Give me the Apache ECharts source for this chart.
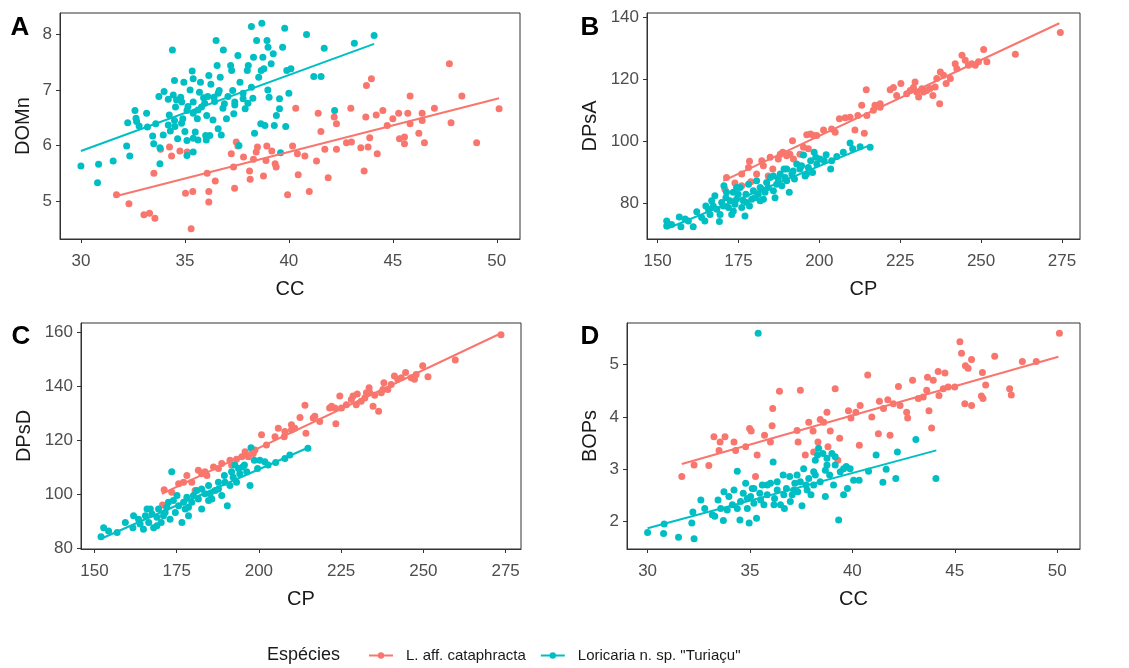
<!DOCTYPE html>
<html>
<head>
<meta charset="utf-8">
<script src="https://cdn.jsdelivr.net/npm/echarts@6/dist/echarts.min.js"></script>
<style>
  html, body { margin: 0; background: #fff; }
  #main { width: 1129px; height: 668px; }
</style>
</head>
<body>
<div id="main"></div>
<script>
const RED = "#F8766D";
const CYAN = "#00BFC4";
const speciesNames = ["L. aff. cataphracta", 'Loricaria n. sp. "Turiaçu"'];

// tick labels
const ticksCC = [30, 35, 40, 45, 50];
const ticksCP = [150, 175, 200, 225, 250, 275];
const ticksDOMn = [5, 6, 7, 8];
const ticksDPsA = [80, 100, 120, 140];
const ticksDPsD = [80, 100, 120, 140, 160];
const ticksBOPs = [2, 3, 4, 5];

// A: CC x DOMn
const domnRed = [
  [31.71, 5.11], [32.31, 4.95], [33.03, 4.75], [33.3, 4.78], [33.56, 4.69], [33.51, 5.5], [33.83, 5.93],
  [34.26, 5.97], [34.36, 5.81], [34.76, 5.9], [35.03, 5.14], [35.11, 5.88], [35.3, 4.5], [35.38, 5.17],
  [36.07, 5.5], [36.15, 5.17], [36.15, 4.98], [36.46, 5.36], [37.23, 5.85], [37.34, 5.61], [37.39, 5.23],
  [37.47, 6.06], [37.55, 5.99], [37.82, 5.79], [38.11, 5.54], [38.14, 5.39], [38.3, 5.75], [38.43, 5.88],
  [38.49, 5.97], [38.78, 5.45], [38.9, 5.73], [38.94, 5.99], [39.18, 5.9], [39.34, 5.67], [39.39, 5.61],
  [39.94, 5.11], [40.18, 5.99], [40.33, 6.67], [40.41, 5.85], [40.45, 5.47], [40.77, 5.81], [40.98, 5.17],
  [41.33, 5.72], [41.41, 6.58], [41.54, 6.25], [41.73, 5.93], [41.89, 5.42], [42.18, 6.51], [42.29, 6.39],
  [42.29, 5.93], [42.77, 6.05], [42.98, 6.67], [43.01, 6.06], [43.46, 5.96], [43.62, 5.54], [43.7, 6.51],
  [43.73, 7.08], [43.81, 5.97], [43.89, 6.14], [43.97, 7.2], [44.2, 6.55], [44.25, 5.85], [44.52, 6.63],
  [44.73, 6.36], [45.0, 6.48], [45.28, 6.58], [45.32, 6.12], [45.56, 6.15], [45.56, 6.03], [45.72, 6.58],
  [45.83, 6.89], [45.83, 6.39], [46.25, 6.22], [46.41, 6.58], [46.41, 6.45], [46.52, 6.05], [47.0, 6.67],
  [47.72, 7.47], [47.8, 6.41], [48.32, 6.89], [49.03, 6.05], [50.11, 6.66]
];
const domnCyan = [
  [30.0, 5.63], [30.85, 5.66], [30.8, 5.33], [31.55, 5.72], [32.2, 5.99], [32.35, 5.81], [32.25, 6.41],
  [32.6, 6.63], [32.65, 6.49], [32.8, 6.35], [33.2, 6.33], [33.45, 6.17], [33.5, 6.03], [33.6, 6.39],
  [33.75, 6.88], [34.0, 6.97], [33.8, 5.67], [33.8, 5.96], [34.2, 6.83], [34.25, 6.55], [34.3, 6.26],
  [34.4, 7.72], [34.5, 7.17], [34.5, 6.45], [34.55, 6.69], [34.65, 6.12], [34.8, 6.87], [34.85, 6.78],
  [34.9, 6.48], [34.95, 7.14], [35.0, 6.25], [35.1, 5.82], [35.1, 6.09], [35.1, 6.63], [35.25, 7.0],
  [35.35, 7.34], [35.4, 7.2], [35.4, 6.78], [35.4, 5.88], [35.5, 6.24], [35.6, 6.48], [35.7, 6.96],
  [35.75, 7.14], [35.8, 6.69], [35.9, 6.86], [36.0, 6.18], [36.05, 6.54], [36.15, 7.26], [36.2, 6.18],
  [36.25, 7.1], [36.4, 6.87], [36.5, 7.89], [36.55, 7.44], [36.6, 6.3], [36.65, 6.99], [36.7, 7.23],
  [36.85, 7.72], [36.9, 6.75], [37.0, 6.48], [37.2, 7.44], [37.25, 7.35], [37.3, 6.99], [37.35, 6.57],
  [37.4, 6.78], [37.55, 7.62], [37.6, 6.0], [37.65, 7.14], [37.8, 6.84], [37.9, 6.66], [38.0, 7.35],
  [38.05, 7.44], [38.2, 7.05], [38.2, 8.14], [38.3, 7.59], [38.35, 6.22], [38.45, 7.89], [38.55, 7.23],
  [38.65, 6.39], [38.7, 8.2], [38.75, 7.59], [38.8, 7.38], [38.85, 6.36], [38.95, 7.89], [39.0, 7.77],
  [39.05, 6.87], [39.15, 7.47], [39.25, 7.65], [39.3, 6.36], [39.4, 6.54], [39.55, 6.66], [39.55, 6.84],
  [39.6, 5.87], [39.7, 7.77], [39.8, 8.11], [39.85, 6.34], [39.9, 7.35], [40.0, 6.94], [40.1, 7.38],
  [40.85, 8.0], [41.2, 7.24], [41.55, 7.24], [41.7, 7.75], [42.2, 6.63], [43.15, 7.84], [44.1, 7.98],
  [34.44, 6.91], [34.6, 6.82], [35.15, 6.7], [35.4, 6.58], [35.63, 6.64], [35.95, 6.76], [36.1, 6.88],
  [36.43, 6.79], [36.6, 6.94], [36.83, 6.67], [37.07, 6.88], [37.4, 6.73], [37.8, 6.94], [38.03, 6.76],
  [38.27, 6.85], [38.67, 7.35], [38.99, 7.0], [36.35, 6.46], [36.75, 6.19], [35.4, 6.13], [35.63, 6.1],
  [36.03, 6.1], [34.84, 6.4], [34.52, 6.34], [34.2, 6.37], [33.96, 6.19], [33.16, 6.58], [32.68, 6.43]
];
const domnFitRed = [[31.71, 5.09], [50.11, 6.85]];
const domnFitCyan = [[30.0, 5.9], [44.1, 7.83]];

// B: CP x DPsA
const dpsaRed = [
  [170.8, 84.6], [171.3, 88.4], [173.9, 86.6], [176.0, 89.5], [178.1, 91.6], [178.4, 93.6], [178.8, 87.0],
  [180.6, 89.5], [182.2, 93.8], [182.7, 92.2], [184.2, 88.9], [185.6, 91.1], [187.3, 94.3], [188.7, 96.5],
  [189.9, 95.4], [190.9, 95.9], [191.7, 100.2], [192.0, 94.3], [194.0, 95.9], [196.1, 102.1], [196.6, 97.6],
  [197.3, 102.4], [199.2, 101.9], [201.3, 103.7], [204.9, 102.9], [206.2, 107.3], [208.0, 107.6],
  [211.0, 103.7], [211.9, 108.3], [213.1, 111.6], [213.9, 102.6], [214.5, 116.6], [214.7, 108.3],
  [217.2, 111.6], [218.8, 112.1], [221.9, 116.6], [223.9, 114.8], [225.2, 118.6], [227.0, 115.3],
  [229.1, 117.3], [229.6, 119.1], [230.1, 115.9], [230.7, 114.3], [231.7, 116.9], [233.2, 116.4],
  [235.1, 114.8], [235.8, 117.5], [237.2, 112.1], [237.4, 122.3], [238.4, 121.3], [239.2, 118.6],
  [240.5, 120.2], [242.0, 125.0], [244.1, 127.7], [245.1, 126.1], [246.1, 124.5], [248.2, 124.5],
  [250.8, 129.6], [251.8, 125.6], [260.6, 128.0], [274.5, 135.0],
  [216.7, 110.0], [218.8, 111.0], [228.1, 116.4], [232.2, 115.9], [234.2, 117.0], [242.5, 123.4],
  [247.1, 125.0], [249.2, 125.6], [236.3, 120.2], [222.9, 117.3], [209.5, 107.8], [203.8, 104.0],
  [198.2, 101.9], [195.1, 98.1], [187.9, 95.9], [184.8, 94.9], [176.0, 85.7]
];
const dpsaCyan = [
  [152.8, 72.8], [152.8, 74.4], [156.7, 75.7], [157.2, 72.5], [159.5, 74.4], [161.0, 72.5], [162.1, 77.4],
  [163.6, 75.5], [164.6, 74.4], [164.9, 79.2], [166.2, 76.5], [166.7, 80.9], [167.7, 82.5], [168.3, 78.2],
  [169.1, 74.2], [169.3, 76.5], [169.8, 80.3], [170.5, 85.7], [171.1, 81.9], [171.9, 78.7], [172.4, 80.9],
  [172.9, 76.5], [173.4, 83.6], [173.9, 79.8], [174.4, 81.4], [175.5, 85.2], [176.0, 78.7], [176.5, 80.9],
  [177.0, 76.0], [177.3, 83.0], [178.1, 86.2], [178.4, 79.2], [179.1, 81.4], [179.6, 84.1], [180.6, 87.3],
  [181.1, 83.0], [181.7, 85.2], [182.7, 81.4], [183.2, 83.6], [183.7, 86.8], [184.8, 88.4], [185.8, 84.1],
  [186.3, 81.9], [186.8, 86.2], [187.9, 89.5], [188.4, 85.7], [189.1, 91.1], [189.9, 87.3], [190.7, 83.6],
  [191.5, 89.5], [192.3, 87.9], [193.0, 92.7], [194.0, 91.1], [195.1, 95.6], [195.6, 88.9], [196.6, 91.6],
  [197.3, 93.8], [197.9, 90.0], [198.4, 96.5], [199.2, 92.7], [200.2, 94.3], [202.1, 95.7], [203.5, 91.1],
  [205.4, 95.1], [209.5, 99.5], [210.3, 97.6], [215.7, 98.1],
  [154.3, 73.3], [158.5, 75.0], [165.7, 78.2], [167.2, 79.2], [170.3, 79.2], [171.3, 83.6], [174.9, 83.0],
  [177.5, 80.3], [180.1, 81.9], [182.2, 84.6], [184.2, 85.2], [187.3, 87.9], [189.4, 88.4], [191.9, 90.5],
  [194.5, 92.2], [196.0, 89.5], [198.9, 94.9], [201.5, 93.8], [181.7, 80.9], [173.4, 77.6], [174.4, 85.2],
  [185.8, 88.9], [189.9, 91.1], [203.8, 93.8], [207.4, 96.5], [212.6, 98.3]
];
const dpsaFitRed = [[170.3, 87.3], [274.2, 138.0]];
const dpsaFitCyan = [[152.8, 71.9], [215.7, 98.8]];

// C: CP x DPsD
const dpsdRed = [
  [170.7, 96.2], [171.2, 101.8], [173.5, 100.9], [175.6, 104.0], [178.1, 107.1], [179.6, 104.6],
  [180.6, 101.5], [181.6, 109.0], [182.6, 107.7], [184.2, 107.1], [186.2, 110.2], [188.7, 111.5],
  [191.2, 112.7], [191.7, 110.9], [193.2, 113.1], [195.8, 115.8], [196.8, 114.0], [198.8, 116.5],
  [200.8, 122.1], [202.3, 118.3], [204.9, 121.4], [205.9, 124.5], [207.7, 121.4], [209.9, 123.9],
  [210.9, 124.5], [212.5, 128.5], [214.0, 133.0], [214.3, 122.7], [216.5, 128.3], [218.5, 127.0],
  [221.5, 132.0], [222.1, 132.6], [223.4, 126.2], [224.6, 136.4], [225.1, 132.0], [226.6, 133.2],
  [228.6, 136.4], [229.6, 133.2], [229.9, 137.2], [231.1, 134.5], [232.7, 137.6], [233.5, 139.5],
  [234.7, 132.6], [235.2, 136.7], [236.4, 130.8], [237.2, 137.6], [238.0, 141.3], [239.2, 138.8],
  [241.2, 143.8], [243.3, 143.2], [244.6, 145.1], [246.3, 143.2], [247.8, 144.4], [249.8, 147.6],
  [251.4, 143.5], [259.7, 149.7], [273.6, 159.1],
  [233.7, 137.6], [237.7, 138.8], [247.3, 142.6], [240.2, 140.7], [223.1, 132.0], [228.1, 135.1],
  [232.2, 135.7], [217.0, 128.9], [207.9, 123.3], [198.3, 115.2], [194.8, 114.0], [187.7, 109.6],
  [177.1, 104.6], [183.6, 108.4], [209.9, 125.8], [242.2, 142.6]
];
const dpsdCyan = [
  [152.0, 84.4], [152.8, 87.8], [156.9, 86.0], [159.4, 89.7], [161.9, 92.2], [161.7, 87.8], [163.9, 89.1],
  [164.9, 87.2], [165.5, 92.2], [166.5, 89.7], [167.5, 92.8], [168.0, 87.8], [169.0, 91.6], [169.5, 94.7],
  [170.3, 89.7], [171.0, 92.2], [172.0, 95.3], [173.0, 90.9], [173.5, 108.4], [174.0, 97.8], [174.6, 93.4],
  [175.6, 95.9], [176.6, 89.7], [177.6, 94.7], [178.1, 99.0], [178.6, 92.2], [179.6, 97.2], [181.1, 101.5],
  [181.6, 98.4], [182.6, 94.7], [183.6, 100.3], [184.7, 103.4], [185.7, 98.4], [186.7, 101.5],
  [187.7, 104.6], [188.7, 99.7], [189.5, 107.1], [190.4, 95.9], [191.2, 103.4], [192.2, 106.4],
  [193.2, 104.6], [194.2, 107.7], [195.0, 110.2], [196.3, 108.4], [197.3, 103.4], [197.6, 117.3],
  [198.6, 112.7], [199.6, 109.6], [201.8, 112.1], [202.8, 110.9], [205.1, 111.9], [207.9, 113.3],
  [209.4, 114.6], [214.9, 117.1],
  [154.3, 86.6], [163.4, 90.9], [167.0, 94.7], [171.5, 93.4], [172.5, 97.2], [175.1, 99.7], [177.1, 97.2],
  [180.1, 99.7], [182.6, 102.1], [185.2, 100.3], [187.7, 102.1], [189.7, 104.6], [191.7, 108.4],
  [193.8, 109.6], [195.6, 110.9], [169.0, 88.5], [166.0, 94.7], [178.6, 95.3], [184.7, 97.8],
  [192.7, 110.9], [200.3, 112.7]
];
const dpsdFitRed = [[170.5, 100.3], [273.6, 159.6]];
const dpsdFitCyan = [[152.0, 83.7], [214.9, 117.3]];

// D: CC x BOPs
const bopsRed = [
  [31.67, 2.86], [32.27, 3.08], [32.99, 3.07], [33.24, 3.62], [33.49, 3.36], [33.54, 3.52], [33.78, 3.62],
  [34.22, 3.52], [34.3, 3.36], [34.79, 3.43], [34.98, 3.78], [35.06, 3.73], [35.27, 2.86], [35.35, 3.27],
  [36.0, 3.52], [36.08, 3.83], [36.11, 4.16], [36.44, 4.49], [37.35, 3.52], [37.3, 3.74], [37.46, 4.51],
  [37.7, 3.27], [37.87, 3.9], [38.08, 3.73], [38.11, 3.33], [38.32, 3.52], [38.43, 3.95], [38.6, 3.9],
  [38.76, 4.09], [38.81, 3.43], [38.92, 3.73], [39.16, 4.54], [39.29, 3.17], [39.38, 3.59], [39.93, 3.98],
  [40.17, 4.09], [40.34, 3.46], [40.38, 4.22], [40.75, 4.8], [40.95, 4.0], [41.27, 3.68], [41.32, 4.3],
  [41.52, 4.16], [41.73, 4.33], [41.84, 3.65], [42.25, 4.58], [42.33, 4.22], [42.65, 4.09], [42.7, 3.98],
  [42.94, 4.7], [43.46, 4.38], [43.63, 4.51], [43.67, 4.76], [43.74, 4.12], [43.87, 3.79], [43.95, 4.7],
  [44.23, 4.41], [44.19, 4.87], [44.52, 4.84], [44.68, 4.57], [45.0, 4.57], [45.25, 5.44], [45.33, 5.22],
  [45.49, 4.25], [45.52, 4.98], [45.65, 4.93], [45.82, 4.22], [45.82, 5.1], [46.3, 4.4], [46.35, 4.85],
  [46.38, 4.35], [46.51, 4.61], [46.95, 5.16], [47.68, 4.54], [47.76, 4.42], [48.3, 5.06], [48.98, 5.06],
  [50.11, 5.6], [42.0, 4.25], [43.22, 4.35], [44.44, 4.54], [39.81, 4.12], [35.71, 3.65]
];
const bopsCyan = [
  [30.0, 1.79], [30.78, 1.77], [30.81, 1.95], [31.51, 1.7], [32.16, 1.97], [32.27, 1.67], [32.21, 2.18],
  [32.6, 2.41], [32.79, 2.25], [33.16, 2.13], [33.28, 2.1], [33.44, 2.41], [33.7, 2.02], [33.73, 2.57],
  [33.89, 2.22], [33.97, 2.48], [34.22, 2.6], [34.38, 2.96], [34.51, 2.03], [34.54, 2.38], [34.67, 2.54],
  [34.79, 2.73], [34.87, 2.25], [34.96, 1.97], [35.03, 2.48], [35.11, 2.63], [35.19, 2.35], [35.32, 2.06],
  [35.4, 5.6], [35.48, 2.54], [35.6, 2.7], [35.68, 2.32], [35.84, 2.51], [36.0, 2.73], [36.13, 3.14],
  [36.2, 2.44], [36.33, 2.6], [36.49, 2.32], [36.62, 2.89], [36.68, 2.25], [36.78, 2.63], [36.94, 2.86],
  [37.06, 2.51], [37.19, 2.73], [37.33, 2.57], [37.54, 2.3], [37.62, 3.01], [37.74, 2.7], [37.87, 2.82],
  [37.98, 2.51], [38.11, 2.95], [38.19, 3.17], [38.3, 3.27], [38.43, 2.76], [38.56, 3.3], [38.68, 2.48],
  [38.68, 2.98], [38.76, 3.21], [38.89, 2.89], [39.0, 3.3], [39.08, 2.7], [39.16, 3.24], [39.33, 2.03],
  [39.41, 2.95], [39.57, 2.51], [39.7, 3.05], [39.76, 2.63], [39.89, 3.01], [40.06, 2.79], [40.33, 2.79],
  [40.79, 2.96], [41.16, 3.27], [41.49, 2.75], [41.65, 3.0], [42.12, 2.82], [42.2, 3.33], [43.1, 3.57],
  [44.08, 2.82],
  [35.19, 2.63], [35.84, 2.7], [36.33, 2.76], [37.14, 2.6], [37.46, 2.76], [37.79, 2.6], [38.11, 2.7],
  [36.97, 2.38], [35.52, 2.41], [34.87, 2.44], [34.38, 2.25], [34.14, 2.32], [33.57, 2.25], [36.17, 2.32],
  [36.65, 2.51], [37.3, 2.89], [38.19, 2.89], [38.76, 3.08], [39.16, 3.08], [39.57, 3.01], [38.35, 3.4]
];
const bopsFitRed = [[31.67, 3.1], [50.06, 5.15]];
const bopsFitCyan = [[30.0, 1.87], [44.1, 3.36]];

// ggplot style 5% expansion
function padRange(sets, k) {
  const vals = [];
  sets.forEach((s) => s.forEach((p) => vals.push(p[k])));
  const lo = Math.min(...vals);
  const hi = Math.max(...vals);
  const pad = (hi - lo) * 0.05;
  return [lo - pad, hi + pad];
}

const panels = [
  { letter: "A", grid: { left: 60, top: 13, width: 460, height: 226 }, xName: "CC", yName: "DOMn",
    xTicks: ticksCC, yTicks: ticksDOMn, yGap: 27,
    red: domnRed, cyan: domnCyan, fitRed: domnFitRed, fitCyan: domnFitCyan, lx: 20, ly: 28 },
  { letter: "B", grid: { left: 647, top: 13, width: 433, height: 226 }, xName: "CP", yName: "DPsA",
    xTicks: ticksCP, yTicks: ticksDPsA, yGap: 47,
    red: dpsaRed, cyan: dpsaCyan, fitRed: dpsaFitRed, fitCyan: dpsaFitCyan, lx: 590, ly: 28 },
  { letter: "C", grid: { left: 81, top: 323, width: 440, height: 226 }, xName: "CP", yName: "DPsD",
    xTicks: ticksCP, yTicks: ticksDPsD, yGap: 47,
    red: dpsdRed, cyan: dpsdCyan, fitRed: dpsdFitRed, fitCyan: dpsdFitCyan, lx: 21, ly: 337 },
  { letter: "D", grid: { left: 627, top: 323, width: 453, height: 226 }, xName: "CC", yName: "BOPs",
    xTicks: ticksCC, yTicks: ticksBOPs, yGap: 27,
    red: bopsRed, cyan: bopsCyan, fitRed: bopsFitRed, fitCyan: bopsFitCyan, lx: 590, ly: 337 },
];

const AXIS_COL = "#333333";
const grids = [], xAxes = [], yAxes = [], series = [], graphics = [];

panels.forEach((p, i) => {
  const all = [p.red, p.cyan, p.fitRed, p.fitCyan];
  const xr = padRange(all, 0);
  const yr = padRange(all, 1);
  grids.push(Object.assign({ show: true, borderColor: AXIS_COL, borderWidth: 1, backgroundColor: "#fff" }, p.grid));
  const common = {
    type: "value",
    gridIndex: i,
    nameLocation: "middle",
    nameTextStyle: { fontSize: 20, color: "#1a1a1a" },
    axisLine: { show: true, onZero: false, lineStyle: { color: AXIS_COL, width: 1 } },
    splitLine: { show: false },
  };
  xAxes.push(Object.assign({}, common, {
    min: xr[0], max: xr[1], name: p.xName, nameGap: 40,
    axisTick: { show: true, length: 4, customValues: p.xTicks, lineStyle: { color: AXIS_COL } },
    axisLabel: { customValues: p.xTicks, fontSize: 17, color: "#4d4d4d", margin: 14 },
  }));
  yAxes.push(Object.assign({}, common, {
    min: yr[0], max: yr[1], name: p.yName, nameGap: p.yGap,
    axisTick: { show: true, length: 4, customValues: p.yTicks, lineStyle: { color: AXIS_COL } },
    axisLabel: { customValues: p.yTicks, fontSize: 17, color: "#4d4d4d", margin: 8 },
  }));
  // fitted lines first so the legend picks the line+dot icon
  [[p.fitRed, RED, 0], [p.fitCyan, CYAN, 1]].forEach(([d, c, s]) => {
    series.push({
      type: "line", name: speciesNames[s], xAxisIndex: i, yAxisIndex: i,
      data: d, symbol: "circle", showSymbol: false, z: 4, silent: true,
      itemStyle: { color: c }, lineStyle: { color: c, width: 2 },
    });
  });
  [[p.red, RED, 0, 2], [p.cyan, CYAN, 1, 3]].forEach(([d, c, s, z]) => {
    series.push({
      type: "scatter", name: speciesNames[s], xAxisIndex: i, yAxisIndex: i,
      data: d, symbol: "circle", symbolSize: 7, z: z, silent: true,
      itemStyle: { color: c, opacity: 1 },
    });
  });
  graphics.push({
    type: "text", x: p.lx, y: p.ly,
    style: { text: p.letter, font: "bold 26px 'Liberation Sans'", fill: "#000",
      textAlign: "center", textVerticalAlign: "middle" },
  });
});

graphics.push({
  type: "text", x: 267, y: 655,
  style: { text: "Espécies", font: "18px 'Liberation Sans'", fill: "#1a1a1a",
    textAlign: "left", textVerticalAlign: "middle" },
});

const chart = echarts.init(document.getElementById("main"), null, { renderer: "canvas" });
chart.setOption({
  animation: false,
  backgroundColor: "#fff",
  textStyle: { fontFamily: "Liberation Sans" },
  grid: grids,
  xAxis: xAxes,
  yAxis: yAxes,
  series: series,
  graphic: graphics,
  legend: {
    data: speciesNames,
    left: 368, top: 648, padding: 0,
    itemWidth: 24, itemHeight: 8, itemGap: 14,
    textStyle: { fontSize: 15, color: "#1a1a1a", padding: [0, 0, 0, 8] },
  },
});
</script>
</body>
</html>
